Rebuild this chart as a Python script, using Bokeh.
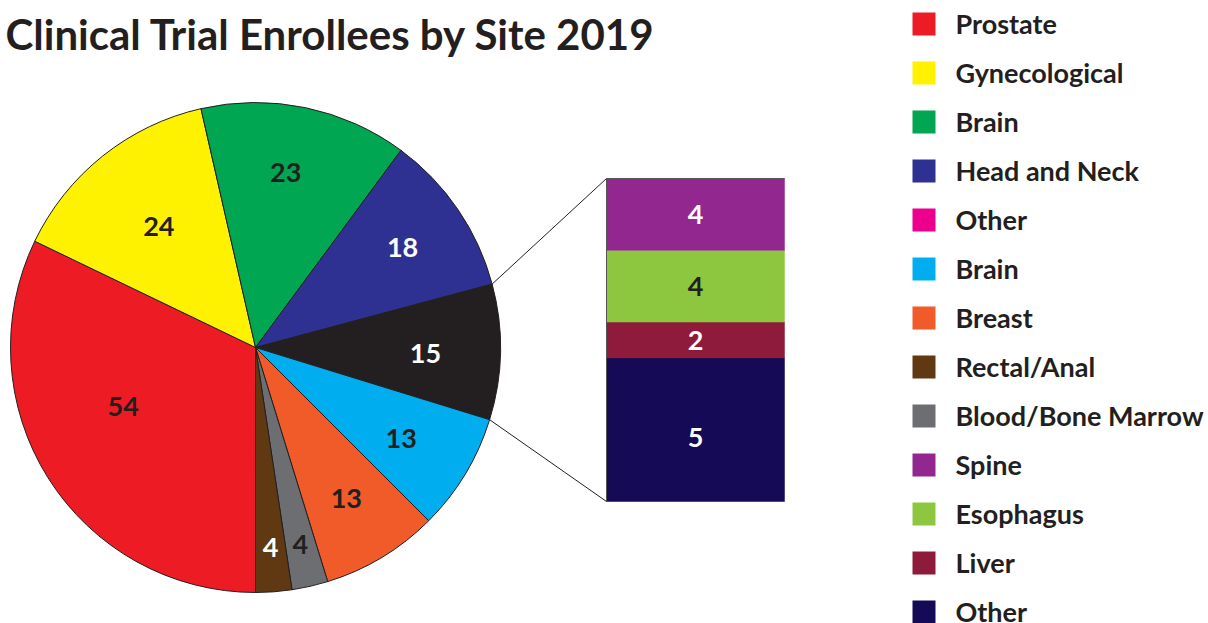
import numpy as np
from bokeh.plotting import figure
from bokeh.models import Range1d, ColumnDataSource
from bokeh.core.properties import value
from bokeh.embed import file_html
from bokeh.resources import INLINE

# ---------------- data ----------------
title_text = "Clinical Trial Enrollees by Site 2019"
# pie slices, clockwise starting from the bottom (6 o'clock)
pie_sites = ["Prostate", "Gynecological", "Brain", "Head and Neck", "Other",
             "Brain", "Breast", "Blood/Bone Marrow", "Rectal/Anal"]
pie_values = [54, 24, 23, 18, 15, 13, 13, 4, 4]
pie_colors = ["#ED1C24", "#FFF200", "#00A651", "#2E3192", "#231F20",
              "#00AEEF", "#F15A29", "#6D6E71", "#603913"]
pie_label_colors = ["#231F20", "#231F20", "#231F20", "#FFFFFF", "#FFFFFF",
                    "#231F20", "#231F20", "#231F20", "#FFFFFF"]

other_sites = ["Other", "Liver", "Esophagus", "Spine"]          # bottom -> top
other_values = [5, 2, 4, 4]
other_drawn = [8, 2, 4, 4]                                     # segment heights as drawn
other_colors = ["#140A55", "#8E1B3A", "#8DC63F", "#92278F"]
other_label_colors = ["#FFFFFF", "#FFFFFF", "#231F20", "#FFFFFF"]

legend_labels = ["Prostate", "Gynecological", "Brain", "Head and Neck", "Other",
                 "Brain", "Breast", "Rectal/Anal", "Blood/Bone Marrow",
                 "Spine", "Esophagus", "Liver", "Other"]
legend_colors = ["#ED1C24", "#FFF200", "#00A651", "#2E3192", "#EC008C",
                 "#00AEEF", "#F15A29", "#603913", "#6D6E71",
                 "#92278F", "#8DC63F", "#8E1B3A", "#140A55"]

# ---------------- layout ----------------
W, H = 1208, 623
def Y(py):
    return H - py

FONT = "Lato"
DARK = "#231F20"
cx, cy, R = 255, Y(347), 245
label_r = [145, 155, 178, 178, 170, 172, 176, 202, 201]
label_dang = [-8, 0, 2, 0, -1, -1, 0, 0, 0]
bar_left, bar_right, bar_top, bar_bottom = 606, 784, Y(178), Y(501)
bar_label_dy = [-8, 0, 0, 0]

p = figure(width=W, height=H, x_range=Range1d(0, W), y_range=Range1d(0, H),
           output_backend="svg", toolbar_location=None, min_border=0)
p.axis.visible = False
p.grid.visible = False
p.outline_line_color = None
p.background_fill_color = "white"
p.border_fill_color = "white"

# ---- pie ----
total = sum(pie_values)
vals = np.array(pie_values, dtype=float)
cum_after = np.cumsum(vals)
cum_before = cum_after - vals
start_deg = 270 - cum_after * 360 / total
end_deg = 270 - cum_before * 360 / total
mid_deg = (start_deg + end_deg) / 2 + np.array(label_dang)

pie_src = ColumnDataSource(dict(start=start_deg, end=end_deg, color=pie_colors,
                                site=pie_sites, value=pie_values))
p.wedge(x=cx, y=cy, radius=R, start_angle="start", end_angle="end",
        start_angle_units="deg", end_angle_units="deg",
        fill_color="color", line_color=DARK, line_width=1, source=pie_src)

lx = cx + np.array(label_r) * np.cos(np.radians(mid_deg))
ly = cy + np.array(label_r) * np.sin(np.radians(mid_deg))
p.text(x=lx, y=ly, text=[str(v) for v in pie_values], text_color=pie_label_colors,
       text_font=value(FONT), text_font_style="bold", text_font_size="27px",
       text_align="center", text_baseline="middle")

# ---- connector lines (from "Other" slice edges to bar) ----
oi = pie_sites.index("Other")
a_top = np.radians(end_deg[oi])
a_bot = np.radians(start_deg[oi])
p.line(x=[cx + R * np.cos(a_top), bar_left], y=[cy + R * np.sin(a_top), bar_top],
       line_color=DARK, line_width=1)
p.line(x=[cx + R * np.cos(a_bot), bar_left], y=[cy + R * np.sin(a_bot), bar_bottom],
       line_color=DARK, line_width=1)

# ---- stacked bar ----
scale = (bar_top - bar_bottom) / sum(other_drawn)
d = np.array(other_drawn, dtype=float) * scale
tops = bar_bottom + np.cumsum(d)
bots = tops - d
bar_src = ColumnDataSource(dict(bottom=bots, top=tops, color=other_colors,
                                site=other_sites, value=other_values))
p.quad(left=bar_left, right=bar_right, bottom="bottom", top="top",
       fill_color="color", line_color="color", line_width=0.5, source=bar_src)
p.line(x=[bar_left, bar_left, bar_right], y=[bar_bottom, bar_top, bar_top],
       line_color="#555555", line_width=1)
p.text(x=[(bar_left + bar_right) / 2] * len(other_values),
       y=(tops + bots) / 2 + np.array(bar_label_dy),
       text=[str(v) for v in other_values], text_color=other_label_colors,
       text_font=value(FONT), text_font_style="bold", text_font_size="27px",
       text_align="center", text_baseline="middle")

# ---- legend ----
n = len(legend_labels)
ly0 = np.array([Y(23.5 + 49 * i) for i in range(n)])
p.rect(x=923.5, y=ly0, width=23, height=23, fill_color=legend_colors, line_color=None)
p.text(x=955, y=ly0 + 0.5, text=legend_labels, text_color=DARK,
       text_font=value(FONT), text_font_style="bold", text_font_size="27px",
       text_align="left", text_baseline="middle")

# ---- title ----
p.text(x=[5], y=[Y(33)], text=[title_text], text_color=DARK,
       text_font=value(FONT), text_font_style="bold", text_font_size="42px",
       text_align="left", text_baseline="middle")

open("out.html", "w").write(file_html(p, INLINE))
